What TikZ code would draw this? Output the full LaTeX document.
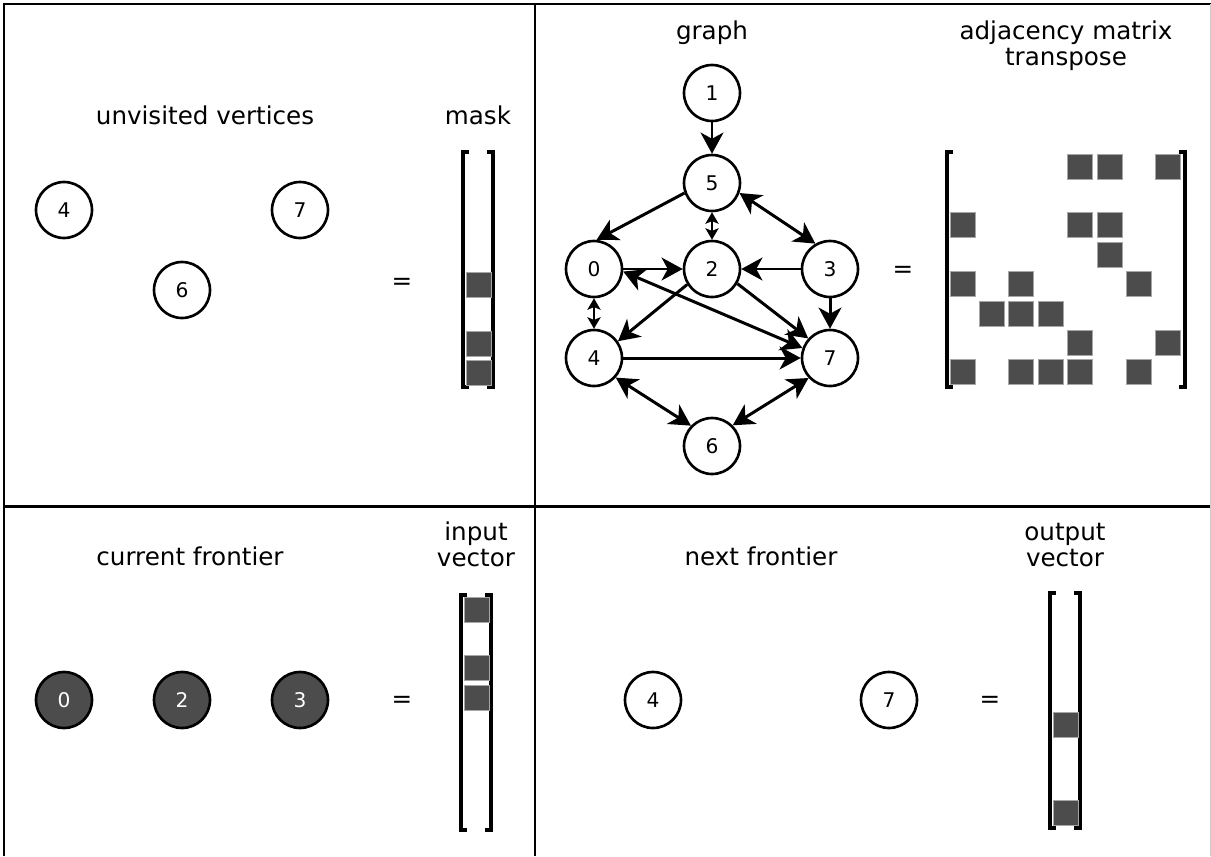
\documentclass[tikz,border=0pt]{standalone}
\usepackage{fontspec}
\setmainfont{DejaVu Sans}
\usetikzlibrary{arrows.meta}
\tikzset{>={Stealth[length=12pt,width=13pt,inset=3.5pt]}}
\tikzset{vertex/.style={circle,draw,line width=1.5pt,minimum size=1.12cm,inner sep=0pt,fill=white,font=\fontsize{11.5}{12}\selectfont}}
\tikzset{visited/.style={vertex,fill=black!70,text=white}}
\tikzset{edge/.style={->,line width=1.7pt}}
\tikzset{twoway/.style={<->,line width=1.7pt}}
\tikzset{shortway/.style={<->,line width=1.4pt,>={Stealth[length=6.5pt,width=7.5pt,inset=1.5pt]}}}
\tikzset{bit/.style={fill=black!70,draw=black!35,line width=0.4pt}}
\tikzset{brkt/.style={line width=1.8pt}}
\tikzset{panel/.style={line width=1.7pt}}
\tikzset{heading/.style={font=\fontsize{14}{14.8}\selectfont,align=center,anchor=base,inner sep=0pt}}
\tikzset{eq/.style={font=\fontsize{14}{14.8}\selectfont}}
% square brackets of a vector: left x, top y, right x, bottom y
\newcommand{\vecbrackets}[4]{%
  \draw[brkt] (#1+6,#2) -- (#1,#2) -- (#1,#4) -- (#1+6,#4);
  \draw[brkt] (#3-6,#2) -- (#3,#2) -- (#3,#4) -- (#3-6,#4);}

\begin{document}
\begin{tikzpicture}[x=0.02cm,y=-0.02cm]
  \useasboundingbox (0,0) rectangle (1211,856);
  % four panels
  \draw[panel] (4,856) -- (4,4) -- (1211,4);
  \draw[panel] (535,4) -- (535,856);
  \draw[panel] (4,506) -- (1211,506);
  \draw[gray!40,thin] (1210,4) -- (1210,856);

  % unvisited vertices and the mask
  \node[heading] (tunv) at (205,124) {unvisited vertices};
  \node[heading] (tmask) at (478,124) {mask};
  \node[vertex] (u4) at (64,210) {4};
  \node[vertex] (u7) at (300,210) {7};
  \node[vertex] (u6) at (182,290) {6};
  \node[eq] (eqmask) at (402,284) {=};
  \vecbrackets{463}{152}{493}{387}
  \foreach \k in {4,6,7}
    \draw[bit] (466,154.5+29.4*\k) rectangle +(25,25);

  % the graph
  \node[heading] (tgraph) at (712,39) {graph};
  \node[vertex] (g1) at (712,93) {1};
  \node[vertex] (g5) at (712,183) {5};
  \node[vertex] (g0) at (594,269) {0};
  \node[vertex] (g2) at (712,269) {2};
  \node[vertex] (g3) at (830,269) {3};
  \node[vertex] (g4) at (594,358) {4};
  \node[vertex] (g7) at (830,358) {7};
  \node[vertex] (g6) at (712,446) {6};
  \draw[edge] (g1) -- (g5);
  \draw[edge] (g5.200) -- (g0.85);
  \draw[twoway] (g5.-20) -- (g3.120);
  \draw[shortway] (g5) -- (g2);
  \draw[edge] (g0) -- (g2);
  \draw[edge] (g3) -- (g2);
  \draw[edge] (g3) -- (g7);
  \draw[edge] (g2.212) -- (g4.35);
  \draw[edge] (g2.-30) -- (g7.138);
  \draw[twoway] (g0.-5) -- (g7.160);
  \draw[edge] (g4) -- (g7);
  \draw[shortway] (g0) -- (g4);
  \draw[twoway] (g4.-42) -- (g6.136);
  \draw[twoway] (g7.-137) -- (g6.45);

  % adjacency matrix transpose
  \node[heading] (tadj) at (1066,65) {adjacency matrix\\transpose};
  \node[eq] (eqadj) at (903,272) {=};
  \vecbrackets{947}{152}{1185}{387}
  \foreach \r/\c in {0/4,0/5,0/7,2/0,2/4,2/5,3/5,4/0,4/2,4/6,5/1,5/2,5/3,6/4,6/7,7/0,7/2,7/3,7/4,7/6}
    \draw[bit] (950+29.4*\c,154+29.4*\r) rectangle +(25,25);

  % current frontier and input vector
  \node[heading] (tcur) at (190,565) {current frontier};
  \node[heading] (tin) at (476,566) {input\\vector};
  \node[visited] (c0) at (64,700) {0};
  \node[visited] (c2) at (182,700) {2};
  \node[visited] (c3) at (300,700) {3};
  \node[eq] (eqin) at (402,702) {=};
  \vecbrackets{461}{595}{491}{830}
  \foreach \k in {0,2,3}
    \draw[bit] (464,597+29.4*\k) rectangle +(25,25);

  % next frontier and output vector
  \node[heading] (tnext) at (761,565) {next frontier};
  \node[heading] (tout) at (1065,566) {output\\vector};
  \node[vertex] (n4) at (653,700) {4};
  \node[vertex] (n7) at (889,700) {7};
  \node[eq] (eqout) at (990,702) {=};
  \vecbrackets{1050}{593}{1080}{828}
  \foreach \k in {4,7}
    \draw[bit] (1053,595+29.4*\k) rectangle +(25,25);
\end{tikzpicture}
\end{document}
